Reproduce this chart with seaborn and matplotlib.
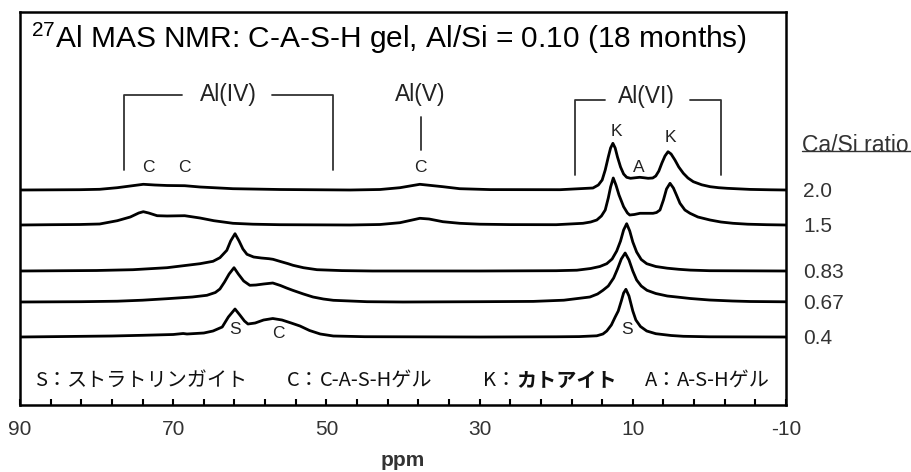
import numpy as np
import pandas as pd
import seaborn as sns
import matplotlib
matplotlib.use("Agg")
import matplotlib.pyplot as plt
from matplotlib.lines import Line2D
from matplotlib.transforms import blended_transform_factory

# ---------------- data ----------------
ratios = ["0.4", "0.67", "0.83", "1.5", "2.0"]
offsets = [68, 103, 134, 180, 215]

ppm_04 = [90, 84, 78, 74, 70, 68.7, 68.2, 66, 64.8, 63.6, 62.8, 61.93, 61.3, 60.7, 60.24, 59.3,
          58.2, 57.0, 55.8, 54.6, 53.45, 52.2, 50.8, 49.1, 45, 30, 20, 17, 14.7, 13.9, 13.4, 12.8,
          12.3, 11.9, 11.5, 11.2, 10.9, 10.5, 10.0, 9.6, 9.0, 8.18, 7.0, 5.0, 3.4, 0, -10]
int_04 = [0, 0.5, 1, 1.7, 2.5, 3.5, 3, 4, 6, 10, 20, 28, 22, 16, 13, 14,
          17, 18.5, 17, 14, 11, 6.5, 3, 1, 0.3, 0, 0.2, 0.4, 1.2, 3, 6, 12,
          20, 26, 36, 44, 47.7, 41, 26, 17, 10.5, 6, 3.3, 1.5, 0.7, 0.2, 0]

ppm_067 = [90, 82, 77.3, 74, 70.8, 67.5, 65.6, 64.5, 63.9, 63.3, 62.7, 62.06, 61.5, 60.8, 60.0,
           59.2, 58.2, 57.0, 56.0, 55.2, 54.4, 53.0, 51.75, 50.4, 49.1, 44.7, 40, 30, 23.0, 19,
           15.6, 14.6, 13.9, 13.2, 12.5, 12.0, 11.5, 11.0, 10.5, 10.0, 9.5, 8.9, 8.15, 7.0, 5.5,
           4.27, 2.5, 0, -3, -5.3, -10]
int_067 = [0, 0.3, 0.8, 1.8, 3.3, 5, 6.7, 9.5, 13, 20, 28, 34.3, 28, 21, 16.7,
           17, 18, 19, 16.5, 14, 11.7, 8, 5, 3, 1.7, 0.3, 0, 0.3, 0.6, 1.8,
           5, 8, 11.7, 16, 24, 33, 43, 49, 42, 31, 22, 16, 11.7, 8.5, 6,
           5, 3.5, 2, 1, 0.5, 0.2]

ppm_083 = [90, 80, 75.25, 70.8, 66.5, 64.8, 63.9, 63.0, 62.5, 61.93, 61.4, 60.9, 60.37, 59.5,
           58.5, 57.5, 56.97, 56, 55, 54.36, 53, 51.23, 48, 44, 30, 20, 17.3, 15.5, 14.3, 13.4,
           12.7, 12.1, 11.6, 11.2, 10.8, 10.4, 10.0, 9.5, 8.9, 8.18, 7.0, 5.5, 4.0, 2.5, 0, -10]
int_083 = [0, 0.5, 1.3, 3.3, 7.3, 9.7, 13.3, 20.7, 30, 37.3, 30, 22, 16.7, 14,
           13, 12.3, 11.7, 9.5, 7.3, 5.7, 3.3, 1.3, 0.4, 0, 0, 0.3, 0.8, 2.5, 4.5, 7.3,
           12, 20, 30, 41, 47.3, 40, 29, 19, 11.5, 7.3, 4.5, 2.8, 1.7, 0.9, 0.3, 0]

ppm_15 = [90, 86, 82.2, 79.6, 77.3, 75.6, 74.5, 73.9, 73.2, 72.1, 70.8, 68.5, 66.5, 64.7, 62.2,
          59.6, 56.1, 46.9, 43.0, 40.4, 38.5, 37.8, 36.6, 34.8, 32.6, 30.0, 26, 20, 16.5, 15.5,
          14.7, 14.1, 13.6, 13.2, 12.9, 12.55, 12.2, 11.8, 11.2, 10.7, 10.4, 9.8, 9.06, 8.2, 7.36,
          6.9, 6.45, 6.0, 5.6, 5.14, 4.7, 4.3, 3.84, 3.2, 2.53, 1.5, -0.08, -1.5, -3.08, -5, -7.5, -10]
int_15 = [0, 0.3, 0.5, 1, 4.3, 8, 12, 13.3, 12, 9.3, 9, 9.3, 7, 4.3, 1.7,
          0.8, 0.3, 0, 0.5, 2.3, 5.5, 6.7, 6, 3.3, 1.7, 0.8, 0.4, 0.3, 1.7, 3,
          5, 9, 15, 27, 38, 47, 40, 30, 18.3, 12, 10, 10.5, 11.7, 11.7, 11.7,
          12.5, 15, 25, 36, 41.7, 37, 30, 21.7, 15, 11.7, 8, 5, 3, 1.7, 0.8, 0.3, 0]

ppm_20 = [90, 82.2, 79.6, 77.3, 75.6, 73.9, 72.4, 70.8, 68.5, 66.5, 62.2, 56.1, 46.9, 43.0, 40.4,
          37.8, 34.8, 32.6, 28.6, 19.5, 15.2, 14.5, 14.0, 13.6, 13.2, 12.9, 12.6, 12.3, 12.0, 11.6,
          11.2, 10.8, 10.3, 9.6, 9.1, 8.5, 8.0, 7.4, 7.0, 6.6, 6.2, 5.8, 5.4, 5.0, 4.5, 4.0, 3.4,
          2.8, 2.1, 1.0, -0.1, -1.2, -2.3, -5.3, -8, -10]
int_20 = [0, 0.3, 0.7, 2.3, 4, 5.7, 5, 4.5, 4.3, 3, 1.3, 0.5, 0, 0.5, 2.3,
          5.7, 3.3, 1.3, 0.4, 0.3, 2, 5, 10, 20, 33, 42, 46.7, 42, 33, 23,
          16, 12.7, 11.7, 12.3, 12.7, 12.2, 11.7, 12, 14, 19, 27, 34, 38.3, 36, 30, 23, 16.7,
          12, 8.3, 5.2, 3.3, 2.3, 1.7, 0.6, 0.2, 0]

spectra_ppm = [ppm_04, ppm_067, ppm_083, ppm_15, ppm_20]
spectra_int = [int_04, int_067, int_083, int_15, int_20]

xticks_major = [90, 70, 50, 30, 10, -10]
title = r"$\mathregular{^{27}}$Al MAS NMR: C-A-S-H gel, Al/Si = 0.10 (18 months)"
legend_items = [("S：", "ストラトリンガイト", "normal"), ("C：", "C-A-S-Hゲル", "normal"),
                ("K：", "カトアイト", "bold"), ("A：", "A-S-Hゲル", "normal")]

# ---------------- build long table ----------------
frames = []
for r, off, p, i in zip(ratios, offsets, spectra_ppm, spectra_int):
    frames.append(pd.DataFrame({"ppm": p, "y": np.asarray(i) + off, "ratio": r}))
df = pd.concat(frames, ignore_index=True)

# ---------------- style ----------------
sns.set_style("white")
plt.rcParams["font.family"] = ["Liberation Sans", "Noto Sans CJK JP"]
plt.rcParams["mathtext.fontset"] = "custom"
plt.rcParams["mathtext.rm"] = "Liberation Sans"

fig = plt.figure(figsize=(9.12, 4.72), dpi=100)
ax = fig.add_axes([20 / 912, 1 - 405 / 472, 766 / 912, 393 / 472])

sns.lineplot(data=df, x="ppm", y="y", hue="ratio", units="ratio", palette=["black"] * 5,
             estimator=None, sort=False, legend=False, linewidth=2.0, ax=ax)

ax.set_xlim(90, -10)
ax.set_ylim(0, 393)
ax.set_yticks([])
ax.set_xticks(xticks_major)
ax.set_xticklabels([str(t) for t in xticks_major], fontsize=15, color="#333333")
ax.set_xticks(np.arange(-10, 91, 4), minor=True)
ax.tick_params(axis="x", which="both", direction="in", length=4, width=1.5, pad=11,
               bottom=True, top=False, color="black")
ax.set_xlabel("")
ax.set_ylabel("")
for s in ax.spines.values():
    s.set_linewidth(1.8)
    s.set_color("black")

# title
ax.text(88.5, 367, title, fontsize=21.5, ha="left", va="center", color="black")

# bracket annotations
lc = "#333333"
lw = 1.3
tc = "#222222"
# Al(IV)
ax.plot([76.4, 76.4, 68.9], [235, 310, 310], color=lc, lw=lw)
ax.plot([57.1, 49.1, 49.1], [310, 310, 235], color=lc, lw=lw)
ax.text(62.85, 311, "Al(IV)", fontsize=16.5, ha="center", va="center", color=tc)
# Al(V)
ax.plot([37.7, 37.7], [255, 288], color=lc, lw=lw)
ax.text(37.7, 311, "Al(V)", fontsize=16.5, ha="center", va="center", color=tc)
# Al(VI)
ax.plot([17.6, 17.6, 13.6], [230, 305, 305], color=lc, lw=lw)
ax.plot([2.5, -1.5, -1.5], [305, 305, 230], color=lc, lw=lw)
ax.text(8.2, 309, "Al(VI)", fontsize=16.5, ha="center", va="center", color=tc)

# peak letters
letters = [(73.3, 238, "C"), (68.5, 238, "C"), (37.7, 238, "C"), (12.2, 273, "K"),
           (5.1, 267, "K"), (9.2, 237, "A"), (61.9, 75, "S"), (56.3, 72, "C"), (10.8, 75, "S")]
for x, y, t in letters:
    ax.text(x, y, t, fontsize=12.5, ha="center", va="center", color=tc)

# legend text (Japanese)
leg_x = [88.04, 55.18, 29.56, 8.41]
for x, (a, b, w) in zip(leg_x, legend_items):
    t1 = ax.text(x, 25, a, fontsize=14.5, ha="left", va="center",
                 family=["Noto Sans CJK JP"], color="#111111")
    ax.annotate(b, xy=(1, 0.5), xycoords=t1, ha="left", va="center", fontsize=14.5,
                fontweight=w, family=["Noto Sans CJK JP"], color="#111111")

# right-hand labels
tr = blended_transform_factory(fig.transFigure, ax.transData)
for r, off in zip(ratios, offsets):
    ax.text(803 / 912, off - 1.5, r, transform=tr, fontsize=15, ha="left", va="center",
            color="#333333", clip_on=False)
fig.text(802 / 912, 1 - 145 / 472, "Ca/Si ratio", fontsize=16.5, ha="left", va="center",
         color="#333333")
fig.add_artist(Line2D([802 / 912, 912 / 912], [1 - 151 / 472, 1 - 151 / 472],
                      transform=fig.transFigure, color="#333333", lw=1.0))

fig.text(403 / 912, 1 - 460 / 472, "ppm", fontsize=15, fontweight="bold", ha="center",
         va="center", color="#333333")

fig.savefig("out.png", dpi=100)
